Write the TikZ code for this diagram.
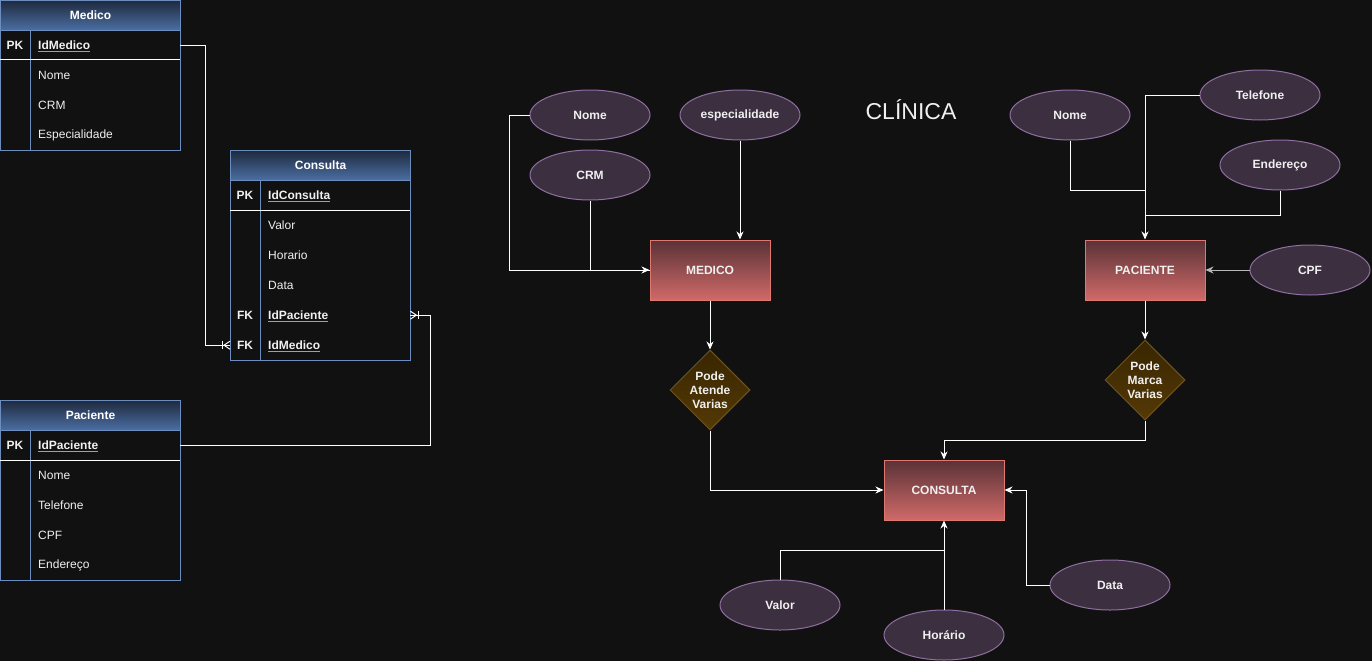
\documentclass[tikz,border=0pt]{standalone}
\usepackage{fontspec}
\setmainfont{Liberation Sans}
\usetikzlibrary{shapes.geometric,arrows.meta,calc}
\definecolor{bg}{HTML}{111111}
\definecolor{txt}{HTML}{F0F0F0}
\definecolor{tblline}{HTML}{6C8EBF}
\definecolor{thtop}{HTML}{1F2A3F}
\definecolor{thbot}{HTML}{4C6FA3}
\definecolor{ulc}{HTML}{A0A0A0}
\definecolor{attrfill}{HTML}{3B2F40}
\definecolor{attrline}{HTML}{8E6FA0}
\definecolor{enttop}{HTML}{5A3236}
\definecolor{entbot}{HTML}{D06A69}
\definecolor{entline}{HTML}{E07872}
\definecolor{reltop}{HTML}{382600}
\definecolor{relbot}{HTML}{553906}
\definecolor{relline}{HTML}{6E5320}
\definecolor{cpfline}{HTML}{B8B8B8}
\begin{document}
\begin{tikzpicture}[x=1pt,y=-1pt,
  font=\fontsize{12}{14}\selectfont,
  conn/.style={draw=white, line width=1pt},
  arr/.style={conn, -{Stealth[length=8pt,width=7pt,inset=2.5pt]}},
  attr/.style={ellipse, draw=attrline, fill=attrfill, line width=1pt, minimum width=120pt, minimum height=50pt, inner sep=0pt, text=txt, font=\bfseries\fontsize{12}{14}\selectfont},
  entity/.style={rectangle, draw=entline, line width=1pt, top color=enttop, bottom color=entbot, minimum width=120pt, minimum height=60pt, inner sep=0pt, text=txt, font=\bfseries\fontsize{12}{14}\selectfont},
  rel/.style={diamond, draw=relline, line width=1pt, top color=reltop, bottom color=relbot, minimum width=80pt, minimum height=80pt, inner sep=0pt, text=txt, align=center, font=\bfseries\fontsize{12}{14}\selectfont},
  thead/.style={rectangle, draw=tblline, line width=1pt, top color=thtop, bottom color=thbot, minimum width=180pt, minimum height=30pt, anchor=north west, inner sep=0pt, text=white, font=\bfseries\fontsize{12}{14}\selectfont},
  tbody/.style={rectangle, draw=tblline, line width=1pt, fill=bg, minimum width=180pt, anchor=north west, inner sep=0pt},
  trow/.style={rectangle, minimum width=180pt, minimum height=30pt, anchor=north west, inner sep=0pt},
  ttxt/.style={anchor=west, inner sep=0pt, text=txt},
  tkey/.style={anchor=center, inner sep=0pt, text=txt, font=\bfseries\fontsize{12}{14}\selectfont},
  tpk/.style={ttxt, font=\bfseries\fontsize{12}{14}\selectfont},
  uline/.style={draw=ulc, line width=1pt}
]
\useasboundingbox (0,0) rectangle (1372,661);
\fill[bg] (0,0) rectangle (1372,661);

% ---------- Table Medico ----------
\node[tbody, minimum height=120pt] (medB) at (0,30) {};
\node[thead] (medH) at (0,0) {Medico};
\draw[tblline, line width=1pt] (30,30) -- (30,150);
\draw[white, line width=1pt] (0,60) -- (180,60);
\node[trow] (medPK) at (0,30) {};
\node[tkey] at (15,45) {PK};
\node[tpk] (medPKt) at (38,45) {IdMedico};
\draw[uline] ([yshift=-2.5pt]medPKt.base west) -- ([yshift=-2.5pt]medPKt.base east);
\node[ttxt] at (38,75) {Nome};
\node[ttxt] at (38,105) {CRM};
\node[ttxt] at (38,135) {Especialidade};

% ---------- Table Consulta ----------
\node[tbody, minimum height=180pt] (conB) at (230,180) {};
\node[thead] (conH) at (230,150) {Consulta};
\draw[tblline, line width=1pt] (260,180) -- (260,360);
\draw[white, line width=1pt] (230,210) -- (410,210);
\node[trow] (conFKp) at (230,300) {};
\node[trow] (conFKm) at (230,330) {};
\node[tkey] at (245,195) {PK};
\node[tpk] (conPKt) at (268,195) {IdConsulta};
\draw[uline] ([yshift=-2.5pt]conPKt.base west) -- ([yshift=-2.5pt]conPKt.base east);
\node[ttxt] at (268,225) {Valor};
\node[ttxt] at (268,255) {Horario};
\node[ttxt] at (268,285) {Data};
\node[tkey] at (245,315) {FK};
\node[tpk] (conFKpt) at (268,315) {IdPaciente};
\draw[uline] ([yshift=-2.5pt]conFKpt.base west) -- ([yshift=-2.5pt]conFKpt.base east);
\node[tkey] at (245,345) {FK};
\node[tpk] (conFKmt) at (268,345) {IdMedico};
\draw[uline] ([yshift=-2.5pt]conFKmt.base west) -- ([yshift=-2.5pt]conFKmt.base east);

% ---------- Table Paciente ----------
\node[tbody, minimum height=150pt] (pacB) at (0,430) {};
\node[thead] (pacH) at (0,400) {Paciente};
\draw[tblline, line width=1pt] (30,430) -- (30,580);
\draw[white, line width=1pt] (0,460) -- (180,460);
\node[trow] (pacPK) at (0,430) {};
\node[tkey] at (15,445) {PK};
\node[tpk] (pacPKt) at (38,445) {IdPaciente};
\draw[uline] ([yshift=-2.5pt]pacPKt.base west) -- ([yshift=-2.5pt]pacPKt.base east);
\node[ttxt] at (38,475) {Nome};
\node[ttxt] at (38,505) {Telefone};
\node[ttxt] at (38,535) {CPF};
\node[ttxt] at (38,565) {Endereço};

% ---------- Table relations ----------
\draw[conn] (medPK.east) -- ++(25,0) |- (conFKm.west);
\draw[conn] ([xshift=-8pt,yshift=4pt]conFKm.west) -- ([xshift=-8pt,yshift=-4pt]conFKm.west);
\draw[conn] ([yshift=4pt]conFKm.west) -- ([xshift=-6pt]conFKm.west) -- ([yshift=-4pt]conFKm.west);
\draw[conn] (pacPK.east) -- ++(250,0) |- (conFKp.east);
\draw[conn] ([xshift=8pt,yshift=4pt]conFKp.east) -- ([xshift=8pt,yshift=-4pt]conFKp.east);
\draw[conn] ([yshift=4pt]conFKp.east) -- ([xshift=6pt]conFKp.east) -- ([yshift=-4pt]conFKp.east);

% ---------- ER diagram ----------
\node[text=txt, font=\fontsize{23}{26}\selectfont] (title) at (911,110) {CLÍNICA};

\node[entity] (medico) at (710,270) {MEDICO};
\node[entity] (paciente) at (1145,270) {PACIENTE};
\node[entity] (consulta) at (944,490) {CONSULTA};

\node[rel] (rel1) at (710,390) {Pode\\Atende\\Varias};
\node[rel] (rel2) at (1145,380) {Pode\\Marca\\Varias};

\node[attr] (aNomeM) at (590,115) {Nome};
\node[attr] (aEsp) at (740,115) {especialidade};
\node[attr] (aCRM) at (590,175) {CRM};
\node[attr] (aNomeP) at (1070,115) {Nome};
\node[attr] (aTel) at (1260,95) {Telefone};
\node[attr] (aEnd) at (1280,165) {Endereço};
\node[attr] (aCPF) at (1310,270) {CPF};
\node[attr] (aValor) at (780,605) {Valor};
\node[attr] (aHor) at (944,635) {Horário};
\node[attr] (aData) at (1110,585) {Data};

\coordinate (jNomeP) at (1145,190);
\coordinate (jEnd) at (1145,215);
\coordinate (jValor) at (944,550);

\draw[arr] (aNomeM.west) -- ++(-20,0) |- (medico.west);
\draw[conn] (aCRM.south) |- (medico.west);
\draw[arr] (aEsp.south) -- (medico.north -| aEsp.south);
\draw[arr] (medico.south) -- (rel1.north);
\draw[arr] (rel1.south) |- (consulta.west);

\draw[arr] (aTel.west) -| (paciente.north);
\draw[conn] (aNomeP.south) |- (jNomeP);
\draw[conn] (aEnd.south) |- (jEnd);
\draw[conn, draw=cpfline, -{Stealth[length=8pt,width=7pt,inset=2.5pt]}] (aCPF.west) -- (paciente.east);
\draw[arr] (paciente.south) -- (rel2.north);
\draw[arr] (rel2.south) -- ++(0,20) -| (consulta.north);

\draw[arr] (aHor.north) -- (consulta.south);
\draw[conn] (aValor.north) |- (jValor);
\draw[arr] (aData.west) -- ++(-23,0) |- (consulta.east);
\end{tikzpicture}
\end{document}
